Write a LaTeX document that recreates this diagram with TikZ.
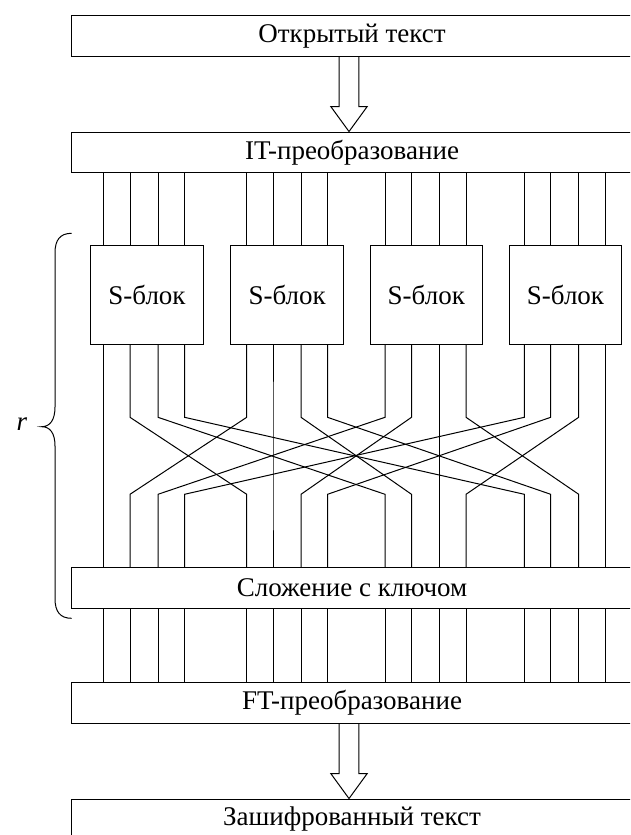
\documentclass[tikz,border=0pt]{standalone}
\usepackage{fontspec}
\setmainfont{Liberation Serif}
\usetikzlibrary{calc}
\newcommand{\fatarrowdraw}[2]{%
  \draw[fat] ($(#1.south -| ax)+(-9.8,0)$) -- ($(#2.north -| ax)+(-9.8,-25)$)
    -- ++(-8.4,0) -- (#2.north -| ax) -- ++(18.2,-25) -- ++(-8.4,0)
    -- ($(#1.south -| ax)+(9.8,0)$);}
\begin{document}
\begin{tikzpicture}[x=1pt,y=-1pt,line width=1pt,
  lbl/.style={font=\fontsize{27}{30}\selectfont},
  widebox/.style={draw, lbl, minimum width=562pt, minimum height=40.5pt, inner sep=0pt},
  sbox/.style={draw, lbl, minimum width=112.6pt, minimum height=98.8pt, inner sep=0pt},
  wire/.style={line join=miter},
  fat/.style={line join=miter}]
\useasboundingbox (0,0) rectangle (630,835);
\clip (0,0) rectangle (630,835);

% stages of the cipher
\node[widebox] (plain) at (352,35.9)  {Открытый текст};
\node[widebox] (it)    at (352,152.3) {IT-преобразование};
\node[widebox] (add)   at (352,587.9) {Сложение с ключом};
\node[widebox] (ft)    at (352,702.9) {FT-преобразование};
\node[widebox] (ciph)  at (352,819.3) {Зашифрованный текст};

% substitution boxes
\foreach \k/\x in {0/147,1/287.2,2/426.3,3/565.5}
  \node[sbox] (sb\k) at (\x,295) {S-блок};

% wire positions and bend levels of the permutation layer
\foreach \i/\x in {0/103.5,1/130,2/158,3/184.5,4/246.7,5/273,6/301,7/327.5,
                   8/385,9/411.5,10/439.5,11/466,12/524.3,13/550.7,14/578.7,15/605.3}
  \coordinate (w\i) at (\x,0);
\coordinate (bendA) at (0,417.3);
\coordinate (bendB) at (0,494.3);
\coordinate (ax) at (349,0);

% wires: IT -> S-boxes -> bit permutation -> key addition -> FT
\foreach \i in {0,...,15}{
  \pgfmathtruncatemacro{\k}{floor(\i/4)}
  \pgfmathtruncatemacro{\j}{4*mod(\i,4)+\k}
  \draw[wire] (it.south -| w\i) -- (sb\k.north -| w\i);
  \draw[wire] (sb\k.south -| w\i) -- (w\i |- bendA) -- (w\j |- bendB) -- (add.north -| w\j);
  \draw[wire] (add.south -| w\i) -- (ft.north -| w\i);
}

% block arrows
\fatarrowdraw{plain}{it}
\fatarrowdraw{ft}{ciph}

% round brace
\draw (71.7,233.3) .. controls (60,233.3) and (55,240) .. (55,253)
  -- (55,407) .. controls (55,420) and (50,426.7) .. (41.7,426.7)
  .. controls (50,426.7) and (55,433) .. (55,446)
  -- (55,598.5) .. controls (55,611.5) and (60,618.3) .. (71.7,618.3);
\node[lbl, font=\fontsize{27}{30}\selectfont\itshape] (rounds) at (22,424) {r};
\end{tikzpicture}
\end{document}
